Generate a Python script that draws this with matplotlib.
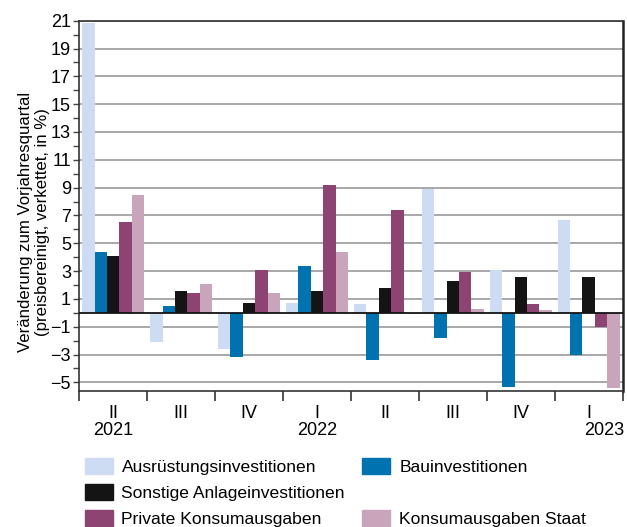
import numpy as np
import matplotlib.pyplot as plt
from matplotlib.patches import Patch

plt.rcParams['font.family'] = ['Liberation Sans', 'DejaVu Sans']

quartale = ["II", "III", "IV", "I", "II", "III", "IV", "I"]
jahre = ["2021", "2022", "2023"]
jahr_pos = [0, 3, 7]

ausruestung = [20.8, -2.1, -2.6, 0.7, 0.6, 8.9, 3.1, 6.7]
bau = [4.4, 0.5, -3.2, 3.4, -3.4, -1.8, -5.3, -3.0]
sonstige = [4.1, 1.6, 0.7, 1.6, 1.8, 2.3, 2.6, 2.6]
privat = [6.5, 1.4, 3.1, 9.2, 7.4, 2.9, 0.6, -1.0]
staat = [8.5, 2.1, 1.4, 4.4, 0.0, 0.3, 0.2, -5.4]

serien = [ausruestung, bau, sonstige, privat, staat]
namen = ["Ausrüstungsinvestitionen", "Bauinvestitionen", "Sonstige Anlageinvestitionen",
         "Private Konsumausgaben", "Konsumausgaben Staat"]
farben = ["#cddcf2", "#0072b0", "#141414", "#8e4472", "#c9a5bc"]

fig = plt.figure(figsize=(6.27, 5.27), dpi=100)
ax = fig.add_axes([0.1265, 0.2586, 0.8665, 0.7021])

n = len(quartale)
x = np.arange(n) + 0.5
w = 0.183
for i, (werte, farbe) in enumerate(zip(serien, farben)):
    ax.bar(x + (i - 2) * w, werte, w, color=farbe, zorder=3)

ax.set_xlim(0, n)
ax.set_ylim(-5.6, 21)

for yv in range(-5, 22, 2):
    ax.axhline(yv, color="#9a9a9a", lw=1.2, zorder=1)
ax.axhline(0, color="#141414", lw=1.3, zorder=4)

ax.set_yticks(np.arange(-5, 22, 2))
ax.set_yticks(np.arange(-4, 21, 2), minor=True)
ax.tick_params(axis="y", which="both", length=4, width=1, color="#444444",
               labelsize=13, pad=2)

ax.set_xticks(np.arange(0, n + 1))
ax.set_xticklabels([])
ax.set_xticks(x, minor=True)
ax.set_xticklabels(quartale, minor=True)
ax.tick_params(axis="x", which="major", length=7, width=1.2, color="#333333")
ax.tick_params(axis="x", which="minor", length=0, labelsize=13, pad=10)

for j, p in zip(jahre, jahr_pos):
    if p == n - 1:
        ax.text(n + 0.02, -0.084, j, transform=ax.get_xaxis_transform(),
                ha="right", va="top", fontsize=13)
    else:
        ax.text(p + 0.5, -0.084, j, transform=ax.get_xaxis_transform(),
                ha="center", va="top", fontsize=13)

for s in ["left", "bottom", "top"]:
    ax.spines[s].set_color("#333333")
    ax.spines[s].set_linewidth(1.2)
ax.spines["right"].set_color("#222222")
ax.spines["right"].set_linewidth(1.8)

ax.set_ylabel("Veränderung zum Vorjahresquartal\n(preisbereinigt, verkettet, in %)",
              fontsize=12.1, linespacing=1.2)
ax.yaxis.set_label_coords(-0.054, 0.455)

handles = [Patch(color=c) for c in farben]
leer = Patch(color="none")
fig.legend([handles[0], handles[2], handles[3], handles[1], leer, handles[4]],
           [namen[0], namen[2], namen[3], namen[1], "", namen[4]],
           ncol=2, loc="lower left", bbox_to_anchor=(0.11, -0.03),
           frameon=False, fontsize=12.6, handlelength=1.6, handleheight=1.1,
           handletextpad=0.5, columnspacing=1.0, labelspacing=0.5)

fig.savefig("out.png", dpi=100)
